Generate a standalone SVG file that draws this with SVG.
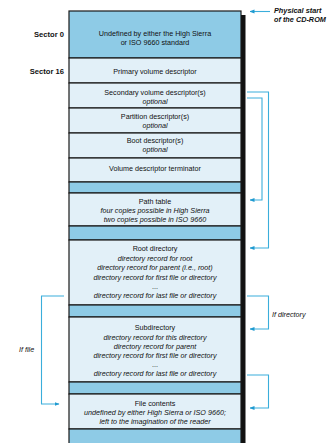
<svg xmlns="http://www.w3.org/2000/svg" width="329" height="443" viewBox="0 0 329 443">
<defs>
<style>
.dk{fill:#8ecbe6;stroke:#1a1a1a;stroke-width:1.2}
.lt{fill:#e2f0f8;stroke:#1a1a1a;stroke-width:1.2}
text{font-family:"Liberation Sans",Arial,sans-serif;font-size:7.2px;fill:#111;text-anchor:middle}
.it{font-style:italic}
.lbl{font-weight:bold;text-anchor:end;font-size:7.6px}
.note{font-style:italic;text-anchor:start}
.phys{font-weight:bold;font-size:7.3px}
.con{fill:none;stroke:#3aaedb;stroke-width:1.1}
</style>
<marker id="ah" viewBox="0 0 10 10" refX="9" refY="5" markerWidth="5" markerHeight="5" orient="auto" markerUnits="userSpaceOnUse">
<path d="M0,1 L10,5 L0,9 z" fill="#1f9ad0"/>
</marker>
</defs>
<rect x="0" y="0" width="329" height="443" fill="#fff"/>
<rect x="241" y="15" width="4.5" height="428" fill="#111"/>
<g id="sector0"><rect class="dk" x="69" y="11" width="172" height="47"/><text x="155" y="36">Undefined by either the High Sierra</text><text x="155" y="45">or ISO 9660 standard</text></g>
<g id="primary"><rect class="lt" x="69" y="58" width="172" height="25"/><text x="155" y="74">Primary volume descriptor</text></g>
<g id="secondary"><rect class="lt" x="69" y="83" width="172" height="25"/><text x="155" y="95">Secondary volume descriptor(s)</text><text class="it" x="155" y="104">optional</text></g>
<g id="partition"><rect class="lt" x="69" y="108" width="172" height="25"/><text x="155" y="119">Partition descriptor(s)</text><text class="it" x="155" y="128">optional</text></g>
<g id="boot"><rect class="lt" x="69" y="133" width="172" height="25"/><text x="155" y="143">Boot descriptor(s)</text><text class="it" x="155" y="152">optional</text></g>
<g id="terminator"><rect class="lt" x="69" y="158" width="172" height="24"/><text x="155" y="171">Volume descriptor terminator</text></g>
<g id="band1"><rect class="dk" x="69" y="182" width="172" height="11"/></g>
<g id="pathtable"><rect class="lt" x="69" y="193" width="172" height="33"/><text x="155" y="204">Path table</text><text class="it" x="155" y="213">four copies possible in High Sierra</text><text class="it" x="155" y="221.5">two copies possible in ISO 9660</text></g>
<g id="band2"><rect class="dk" x="69" y="226" width="172" height="14"/></g>
<g id="root"><rect class="lt" x="69" y="240" width="172" height="65"/><text x="155" y="251">Root directory</text><text class="it" x="155" y="261">directory record for root</text><text class="it" x="155" y="270">directory record for parent (i.e., root)</text><text class="it" x="155" y="280">directory record for first file or directory</text><text x="155" y="289">...</text><text class="it" x="155" y="298">directory record for last file or directory</text></g>
<g id="band3"><rect class="dk" x="69" y="305" width="172" height="12"/></g>
<g id="subdir"><rect class="lt" x="69" y="317" width="172" height="65"/><text x="155" y="330">Subdirectory</text><text class="it" x="155" y="340">directory record for this directory</text><text class="it" x="155" y="349">directory record for parent</text><text class="it" x="155" y="358">directory record for first file or directory</text><text x="155" y="367">...</text><text class="it" x="155" y="376">directory record for last file or directory</text></g>
<g id="band4"><rect class="dk" x="69" y="382" width="172" height="12"/></g>
<g id="filecontents"><rect class="lt" x="69" y="394" width="172" height="35"/><text x="155" y="406">File contents</text><text class="it" x="155" y="415">undefined by either High Sierra or ISO 9660;</text><text class="it" x="155" y="424">left to the imagination of the reader</text></g>
<g id="band5"><rect class="dk" x="69" y="429" width="172" height="20"/></g>
<g id="labels">
<text class="lbl" x="64" y="37">Sector 0</text>
<text class="lbl" x="64" y="74">Sector 16</text>
<text class="note phys" x="274" y="13">Physical start</text>
<text class="note phys" x="274" y="21.5">of the CD-ROM</text>
<text class="note" x="272" y="317">If directory</text>
<text class="note" x="19" y="352">If file</text>
</g>
<g id="connectors">
<path class="con" d="M270,11.5 H250" marker-end="url(#ah)"/>
<path class="con" d="M247,92 H268.5 V248 H250" marker-end="url(#ah)"/>
<path class="con" d="M247,98 H262 V200 H250" marker-end="url(#ah)"/>
<path class="con" d="M247,296 H268.5 V329 H250" marker-end="url(#ah)"/>
<path class="con" d="M64,296 H41.5 V404 H59" marker-end="url(#ah)"/>
<path class="con" d="M247,375 H268.5 V408 H250" marker-end="url(#ah)"/>
</g>
</svg>
